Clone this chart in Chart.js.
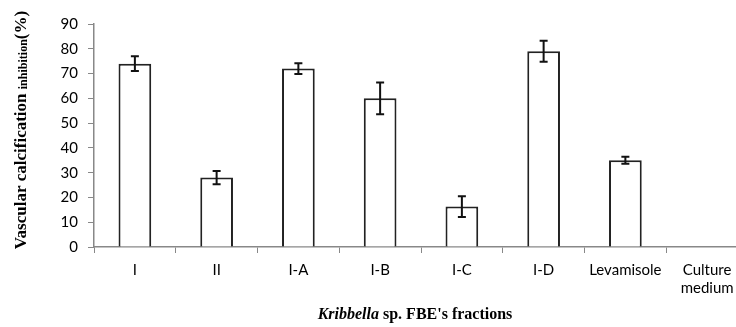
<!DOCTYPE html>
<html><head><meta charset="utf-8">
<script src="https://cdn.jsdelivr.net/npm/chart.js@4.4.1/dist/chart.umd.min.js"></script>
<style>html,body{margin:0;padding:0;background:#fff;overflow:hidden}#wrap{width:736px;height:327px;overflow:hidden}</style>
</head><body><div id="wrap"><canvas id="c" width="750" height="327"></canvas></div>
<script>
const categories = ['I', 'II', 'I-A', 'I-B', 'I-C', 'I-D', 'Levamisole', ['Culture', 'medium']];
const inhibition = [74, 28, 72, 60, 16.3, 79, 35, 0];
const errors = [3, 2.7, 2.2, 6.4, 4.2, 4.2, 1.4, 0];
const yTicks = [0, 10, 20, 30, 40, 50, 60, 70, 80, 90];

const errorBars = {
  id: 'errorBars',
  afterDatasetsDraw(chart) {
    const ctx = chart.ctx, ys = chart.scales.y;
    const meta = chart.getDatasetMeta(0);
    ctx.save();
    ctx.strokeStyle = '#111'; ctx.lineWidth = 2;
    meta.data.forEach((bar, i) => {
      const e = errors[i]; if (!e) return;
      const v = inhibition[i];
      const top = ys.getPixelForValue(v + e), bot = ys.getPixelForValue(v - e);
      const x = bar.x;
      ctx.beginPath();
      ctx.moveTo(x, top); ctx.lineTo(x, bot);
      ctx.moveTo(x - 4, top); ctx.lineTo(x + 4, top);
      ctx.moveTo(x - 4, bot); ctx.lineTo(x + 4, bot);
      ctx.stroke();
    });
    ctx.restore();
  }
};

const titles = {
  id: 'titles',
  afterDraw(chart) {
    const ctx = chart.ctx;
    ctx.save();
    ctx.fillStyle = '#000';
    // Y title
    const big = 'bold 17px "Liberation Serif", "Times New Roman", serif';
    const small = 'bold 12px "Liberation Serif", "Times New Roman", serif';
    const parts = [['Vascular calcification ', big], ['inhibition', small], ['(%)', big]];
    let total = 0;
    parts.forEach(p => { ctx.font = p[1]; p.w = ctx.measureText(p[0]).width; total += p.w; });
    ctx.translate(22, 130);
    ctx.rotate(-Math.PI / 2);
    ctx.textBaseline = 'middle';
    ctx.textAlign = 'left';
    let x = -total / 2;
    parts.forEach(p => { ctx.font = p[1]; ctx.fillText(p[0], x, p[1] === big ? 0 : 1.5); x += p.w; });
    ctx.setTransform(1, 0, 0, 1, 0, 0);
    // X title
    const a = ['Kribbella', 'bold italic 16px "Liberation Serif", "Times New Roman", serif'];
    const b = [' sp. FBE\'s fractions', 'bold 16px "Liberation Serif", "Times New Roman", serif'];
    ctx.font = a[1]; const wa = ctx.measureText(a[0]).width;
    ctx.font = b[1]; const wb = ctx.measureText(b[0]).width;
    let sx = 415 - (wa + wb) / 2;
    ctx.textBaseline = 'middle';
    ctx.font = a[1]; ctx.fillText(a[0], sx, 315);
    ctx.font = b[1]; ctx.fillText(b[0], sx + wa, 315);
    ctx.restore();
  }
};

new Chart(document.getElementById('c'), {
  type: 'bar',
  data: {
    labels: categories,
    datasets: [{
      data: inhibition,
      backgroundColor: '#fff',
      borderColor: '#222',
      borderWidth: 2,
      borderSkipped: 'bottom',
      categoryPercentage: 1,
      barPercentage: 0.4
    }]
  },
  options: {
    responsive: false,
    animation: false,
    events: [],
    layout: { padding: { top: 24, right: 2, left: 0, bottom: 0 } },
    plugins: { legend: { display: false }, tooltip: { enabled: false } },
    scales: {
      x: {
        grid: { drawOnChartArea: false, drawTicks: true, tickLength: 6, color: '#888', offset: true },
        border: { color: '#888', width: 1.5 },
        ticks: { color: '#000', font: { family: 'Lato', size: 15 }, padding: 8, maxRotation: 0, autoSkip: false },
        afterFit(s) { s.height = 80; }
      },
      y: {
        min: 0, max: 90,
        afterBuildTicks(s) { s.ticks = yTicks.map(v => ({ value: v })); },
        grid: { drawOnChartArea: false, drawTicks: true, tickLength: 6, color: '#888' },
        border: { color: '#888', width: 1.5 },
        ticks: { color: '#000', font: { family: 'Lato', size: 15 }, padding: 10 },
        afterFit(s) { s.width = 94; }
      }
    }
  },
  plugins: [errorBars, titles]
});
</script></body></html>
